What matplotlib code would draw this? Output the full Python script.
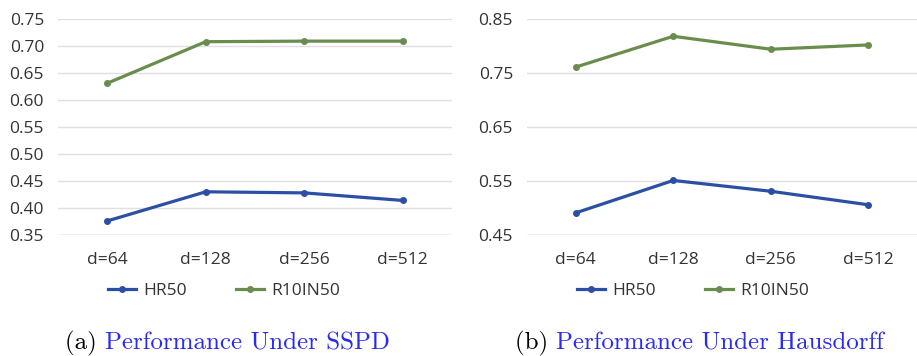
import matplotlib
matplotlib.use("Agg")
import matplotlib.pyplot as plt
from matplotlib.lines import Line2D

categories = ["d=64", "d=128", "d=256", "d=512"]
sspd_hr50 = [0.376, 0.430, 0.428, 0.414]
sspd_r10in50 = [0.631, 0.708, 0.709, 0.709]
haus_hr50 = [0.491, 0.551, 0.531, 0.506]
haus_r10in50 = [0.761, 0.818, 0.794, 0.802]
sspd_yticks = [0.35, 0.40, 0.45, 0.50, 0.55, 0.60, 0.65, 0.70, 0.75]
haus_yticks = [0.45, 0.55, 0.65, 0.75, 0.85]
series_names = ["HR50", "R10IN50"]
captions = [("(a) ", "Performance Under SSPD"), ("(b) ", "Performance Under Hausdorff")]

BLUE = "#2C4FA6"
GREEN = "#6A8D4D"
TICK_FONT = "Open Sans"
FS = 12.5

fig = plt.figure(figsize=(9.17, 3.56), dpi=100)

def panel(rect, hr, r10, yticks, fmt):
    ax = fig.add_axes(rect)
    x = list(range(len(categories)))
    ax.plot(x, hr, color=BLUE, lw=2.3, marker="o", ms=4)
    ax.plot(x, r10, color=GREEN, lw=2.3, marker="o", ms=4)
    ax.set_xlim(-0.5, len(categories) - 0.5)
    ax.set_ylim(yticks[0], yticks[-1])
    ax.set_yticks(yticks)
    ax.set_yticklabels([fmt.format(v) for v in yticks], fontfamily=TICK_FONT, fontsize=FS, color="#333333")
    ax.set_xticks(x)
    ax.set_xticklabels(categories, fontfamily=TICK_FONT, fontsize=FS, color="#333333")
    ax.tick_params(length=0)
    ax.tick_params(axis="y", pad=10)
    ax.tick_params(axis="x", pad=12)
    for s in ax.spines.values():
        s.set_visible(False)
    ax.grid(axis="y", color="#E0E0E0", lw=1)
    ax.set_axisbelow(True)
    ax.axhline(yticks[0], color="#D0D0D0", lw=1, zorder=0)
    return ax

axL = panel([58/917, 1-235/356, 394/917, 216/356], sspd_hr50, sspd_r10in50, sspd_yticks, "{:.2f}")
axR = panel([527/917, 1-235/356, 390/917, 216/356], haus_hr50, haus_r10in50, haus_yticks, "{:.2f}")

handles = [Line2D([], [], color=BLUE, lw=2.3, marker="o", ms=4),
           Line2D([], [], color=GREEN, lw=2.3, marker="o", ms=4)]
for xstart in [108, 577]:
    fig.legend(handles, series_names, loc="center left", bbox_to_anchor=(xstart/917, 1-291/356),
               ncol=2, frameon=False, prop={"family": TICK_FONT, "size": FS},
               handlelength=1.6, columnspacing=2.8, handletextpad=0.45, labelcolor="#333333",
               borderpad=0.0, borderaxespad=0.0)

for (pre, txt), xstart in zip(captions, [65, 515]):
    t1 = fig.text(xstart/917, 1-343/356, pre, fontfamily="cmr10", fontsize=18, color="black", va="center")
    fig.canvas.draw()
    bb = t1.get_window_extent()
    fig.text(bb.x1/917, 1-343/356, txt, fontfamily="cmr10", fontsize=18, color="#2A2AF0", va="center")

fig.savefig("out.png", dpi=100)
